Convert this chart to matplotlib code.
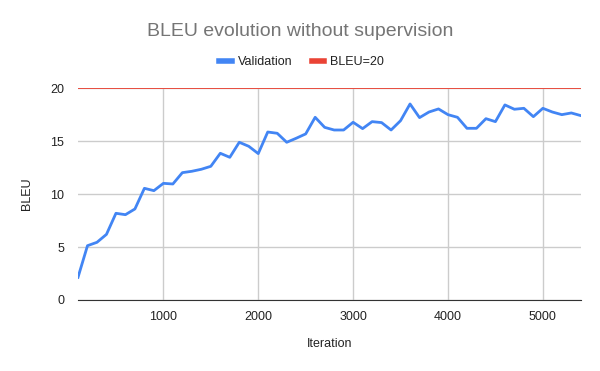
import matplotlib
matplotlib.use("Agg")
import matplotlib.pyplot as plt
from matplotlib.lines import Line2D

plt.rcParams["font.family"] = ["Liberation Sans", "DejaVu Sans"]

# validation BLEU every 100 iterations
iterations = list(range(100, 5500, 100))
bleu = [2.14, 5.13, 5.45, 6.2, 8.19, 8.06, 8.6, 10.55, 10.33, 11.02,
        10.96, 12.03, 12.16, 12.35, 12.63, 13.86, 13.48, 14.9, 14.52, 13.83,
        15.87, 15.75, 14.9, 15.28, 15.69, 17.26, 16.31, 16.06, 16.06, 16.79,
        16.19, 16.85, 16.76, 16.06, 16.94, 18.52, 17.23, 17.76, 18.05, 17.51,
        17.26, 16.22, 16.22, 17.13, 16.85, 18.43, 18.02, 18.11, 17.32, 18.11,
        17.76, 17.51, 17.67, 17.42]
target = 20
x_ticks = [1000, 2000, 3000, 4000, 5000]
y_ticks = [0, 5, 10, 15, 20]

blue = "#4285f4"
red = "#ea4335"

fig = plt.figure(figsize=(6, 3.71), dpi=100)
ax = fig.add_axes([0.13, 0.1914, 0.838, 0.5706])

ax.plot(iterations, bleu, color=blue, lw=2, zorder=3)
ax.axhline(target, color=red, lw=1.3, zorder=3)

ax.set_xlim(iterations[0], iterations[-1])
ax.set_ylim(0, 20)
ax.set_xticks(x_ticks)
ax.set_yticks(y_ticks)
ax.grid(True, color="#cccccc", lw=1)
ax.set_axisbelow(True)
for s in ["top", "right", "left"]:
    ax.spines[s].set_visible(False)
ax.spines["bottom"].set_color("#333333")
ax.tick_params(length=0, labelsize=9, colors="#222222", pad=8)
ax.tick_params(axis="y", pad=10)

ax.set_xlabel("Iteration", fontsize=9, color="#222222", labelpad=11)
ax.set_ylabel("BLEU", fontsize=9, color="#222222", labelpad=12)

fig.text(0.5, 0.915, "BLEU evolution without supervision", ha="center", va="center",
         fontsize=14, color="#757575")

handles = [Line2D([], [], color=blue, lw=4),
           Line2D([], [], color=red, lw=4)]
fig.legend(handles, ["Validation", "BLEU=20"], loc="center", bbox_to_anchor=(0.503, 0.833),
           ncol=2, frameon=False, fontsize=9, handlelength=1.0, handletextpad=0.5,
           columnspacing=1.5, labelcolor="#222222")

fig.savefig("out.png", dpi=100)
